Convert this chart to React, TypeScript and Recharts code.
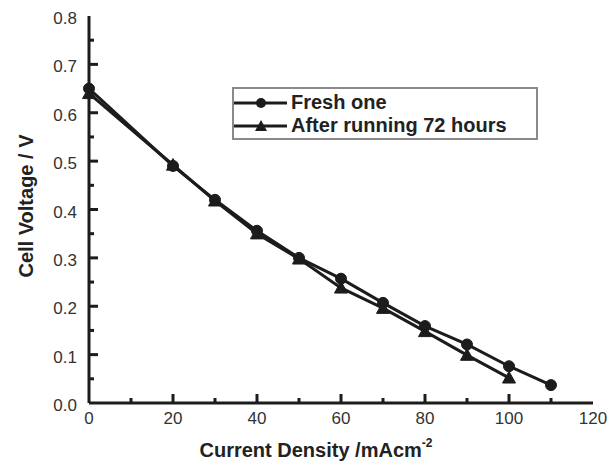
import React from 'react'
import { LineChart, Line, XAxis, YAxis, Legend } from 'recharts'

const currentDensity = [0, 20, 30, 40, 50, 60, 70, 80, 90, 100, 110]
const freshVoltage = [0.65, 0.49, 0.42, 0.356, 0.3, 0.257, 0.207, 0.159, 0.121, 0.076, 0.037]
const agedVoltage = [0.64, 0.492, 0.418, 0.35, 0.298, 0.238, 0.196, 0.148, 0.099, 0.052, null]

const xTicks = [0, 10, 20, 30, 40, 50, 60, 70, 80, 90, 100, 110, 120]
const yTicks = [0, 0.05, 0.1, 0.15, 0.2, 0.25, 0.3, 0.35, 0.4, 0.45, 0.5, 0.55, 0.6, 0.65, 0.7, 0.75, 0.8]

const seriesNames = ['Fresh one', 'After running 72 hours']

const data = currentDensity.map((x, i) => ({
  x,
  fresh: freshVoltage[i],
  aged: agedVoltage[i],
}))

const INK = '#1c1c1c'
const FONT = 'Liberation Sans, Arial, sans-serif'

const XTick = (props: any) => {
  const { x, y, payload } = props
  const v = payload.value
  const major = v % 20 === 0
  const axisY = y - 10
  return (
    <g>
      {v > 0 && v < 120 && (
        <line x1={x} x2={x} y1={axisY} y2={axisY - (major ? 9 : 5)} stroke={INK} strokeWidth={3} />
      )}
      {major && (
        <text x={x} y={y} dy={11} textAnchor="middle" fontSize={17} fill="#333" fontFamily={FONT}>
          {v}
        </text>
      )}
    </g>
  )
}

const YTick = (props: any) => {
  const { x, y, payload } = props
  const v = payload.value
  const major = Math.round(v * 100) % 10 === 0
  const axisX = x + 12
  return (
    <g>
      {v > 0 && v < 0.8 && (
        <line x1={axisX} x2={axisX + (major ? 9 : 5)} y1={y} y2={y} stroke={INK} strokeWidth={3} />
      )}
      {major && (
        <text x={x} y={y} dy={8} textAnchor="end" fontSize={17} fill="#333" fontFamily={FONT}>
          {v.toFixed(1)}
        </text>
      )}
    </g>
  )
}

const Triangle = (props: any) => {
  const { cx, cy, value } = props
  if (value == null || cx == null || cy == null) return <g key={props.key} />
  const s = 6.5
  return (
    <polygon
      key={props.key}
      points={`${cx},${cy - s} ${cx - s},${cy + s * 0.8} ${cx + s},${cy + s * 0.8}`}
      fill={INK}
      stroke={INK}
    />
  )
}

const LegendBox = () => (
  <div
    style={{
      width: 306,
      height: 53,
      border: '2px solid #8a8a8a',
      background: '#fff',
      fontFamily: FONT,
      fontWeight: 'bold',
      fontSize: 20,
      color: '#222',
      boxSizing: 'border-box',
      textAlign: 'left',
    }}
  >
    {seriesNames.map((name, i) => (
      <div key={name} style={{ display: 'flex', alignItems: 'center', height: 23, marginTop: i === 0 ? 2 : 0 }}>
        <svg width={54} height={20} style={{ marginLeft: 0 }}>
          <line x1={0} x2={53} y1={10} y2={10} stroke={INK} strokeWidth={3} />
          {i === 0 ? (
            <circle cx={27} cy={10} r={5} fill={INK} />
          ) : (
            <polygon points="27,4 21,15 33,15" fill={INK} />
          )}
        </svg>
        <span style={{ marginLeft: 3 }}>{name}</span>
      </div>
    ))}
  </div>
)

const xTitle = () => (
  <text x={316} y={457} textAnchor="middle" fontSize={20} fontWeight="bold" fill="#222" fontFamily={FONT}>
    Current Density /mAcm
    <tspan dy={-10} fontSize={12}>-2</tspan>
  </text>
)

const yTitle = () => (
  <text x={33} y={206} transform="rotate(-90, 33, 206)" textAnchor="middle" fontSize={20} fontWeight="bold" fill="#222" fontFamily={FONT}>
    Cell Voltage / V
  </text>
)

export default function App() {
  return (
    <div style={{ position: 'absolute', left: 0, top: 0, background: '#fff' }}>
      <LineChart width={609} height={463} data={data} margin={{ top: 16, right: 16, left: 0, bottom: 0 }}>
        <XAxis
          dataKey="x"
          type="number"
          domain={[0, 120]}
          ticks={xTicks}
          interval={0}
          axisLine={{ stroke: INK, strokeWidth: 3 }}
          tickLine={false}
          tickSize={0}
          tickMargin={10}
          tick={<XTick />}
          height={60}
          label={{ content: xTitle }}
        />
        <XAxis xAxisId="top" orientation="top" dataKey="x" type="number" domain={[0, 120]} tick={false} tickLine={false} height={0} axisLine={{ stroke: INK, strokeWidth: 3 }} />
        <YAxis
          type="number"
          domain={[0, 0.8]}
          ticks={yTicks}
          interval={0}
          axisLine={{ stroke: INK, strokeWidth: 3 }}
          tickLine={false}
          tickSize={0}
          tickMargin={12}
          tick={<YTick />}
          width={89}
          label={{ content: yTitle }}
        />
        <YAxis yAxisId="right" orientation="right" domain={[0, 0.8]} tick={false} tickLine={false} width={0} axisLine={{ stroke: INK, strokeWidth: 3 }} />
        <Legend
          layout="horizontal"
          verticalAlign="middle"
          align="center"
          wrapperStyle={{ left: 232, top: 87, width: 'auto' }}
          content={<LegendBox />}
        />
        <Line
          type="linear"
          dataKey="aged"
          name={seriesNames[1]}
          stroke={INK}
          strokeWidth={3}
          dot={<Triangle />}
          connectNulls={false}
          isAnimationActive={false}
        />
        <Line
          type="linear"
          dataKey="fresh"
          name={seriesNames[0]}
          stroke={INK}
          strokeWidth={3}
          dot={{ r: 5.5, fill: INK, stroke: INK, strokeWidth: 1 }}
          isAnimationActive={false}
        />
      </LineChart>
    </div>
  )
}
